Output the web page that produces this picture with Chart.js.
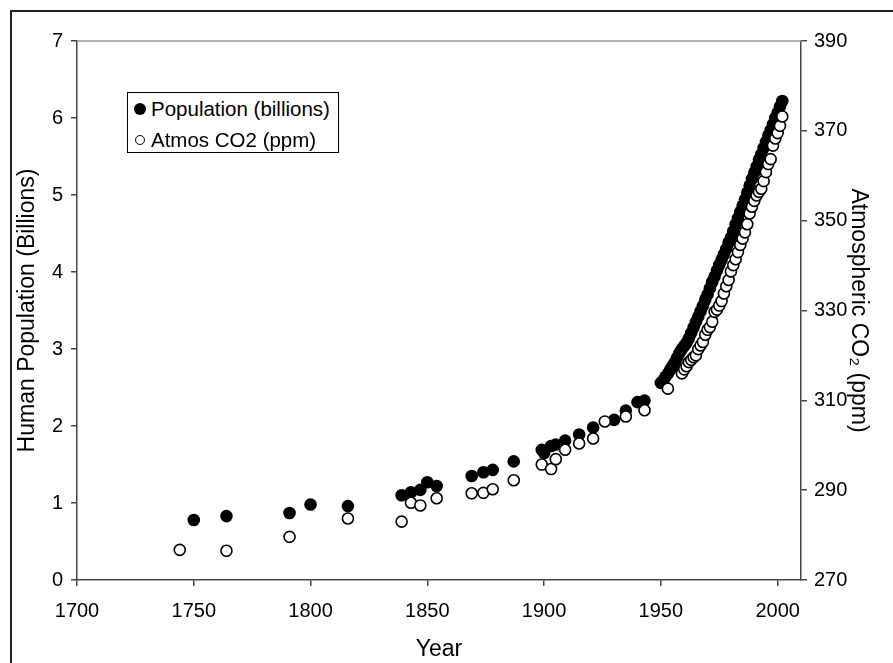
<!DOCTYPE html>
<html>
<head>
<meta charset="utf-8">
<script src="https://cdn.jsdelivr.net/npm/chart.js@4.4.1/dist/chart.umd.min.js"></script>
<style>
    html, body { margin: 0; padding: 0; background: #fff; }
    #wrap { position: relative; width: 893px; height: 663px; overflow: hidden; }
    #frame { position: absolute; left: 10px; top: 10px; width: 920px; height: 700px;
             border-left: 2px solid #222; border-top: 2px solid #222; pointer-events: none; }
    #legend { position: absolute; left: 127px; top: 92px; width: 210px; height: 59px;
              border: 1px solid #000; background: #fff;
              font-family: "Liberation Sans", Arial, sans-serif; font-size: 20.5px; color: #000; }
    .row { position: absolute; left: 0; height: 31px; line-height: 31px; width: 100%; }
    .mark { position: absolute; border-radius: 50%; box-sizing: border-box; }
    .txt { position: absolute; left: 23px; top: 0; white-space: nowrap; }
</style>
</head>
<body>
<div id="wrap">
    <canvas id="co2-chart" width="893" height="663"></canvas>
    <div id="frame"></div>
    <div id="legend"></div>
</div>
<script>
// Populacja swiata (mld) - lata i wartosci
const popYears = [1750, 1764, 1791, 1800, 1816, 1839, 1843, 1847, 1850, 1854,
    1869, 1874, 1878, 1887, 1899, 1900, 1903, 1905, 1909, 1915,
    1921, 1930, 1935, 1940, 1943,
    1950, 1951, 1952, 1953, 1954, 1955, 1956, 1957, 1958, 1959,
    1960, 1961, 1962, 1963, 1964, 1965, 1966, 1967, 1968, 1969,
    1970, 1971, 1972, 1973, 1974, 1975, 1976, 1977, 1978, 1979,
    1980, 1981, 1982, 1983, 1984, 1985, 1986, 1987, 1988, 1989,
    1990, 1991, 1992, 1993, 1994, 1995, 1996, 1997, 1998, 1999,
    2000, 2001, 2002];
const popValues = [0.78, 0.83, 0.87, 0.98, 0.96, 1.10, 1.14, 1.17, 1.27, 1.22,
    1.35, 1.40, 1.43, 1.54, 1.69, 1.65, 1.74, 1.76, 1.81, 1.89,
    1.98, 2.08, 2.20, 2.31, 2.33,
    2.56, 2.59, 2.64, 2.68, 2.73, 2.78, 2.83, 2.89, 2.95, 3.00,
    3.04, 3.08, 3.14, 3.21, 3.28, 3.35, 3.42, 3.49, 3.56, 3.64,
    3.71, 3.79, 3.87, 3.94, 4.02, 4.09, 4.16, 4.23, 4.30, 4.38,
    4.45, 4.53, 4.62, 4.70, 4.78, 4.86, 4.94, 5.03, 5.12, 5.21,
    5.29, 5.37, 5.46, 5.53, 5.61, 5.69, 5.77, 5.84, 5.92, 6.00,
    6.07, 6.15, 6.22];

// CO2 w atmosferze (ppm)
const co2Years = [1744, 1764, 1791, 1816, 1839, 1843, 1847, 1854, 1869, 1874,
    1878, 1887, 1899, 1903, 1905, 1909, 1915, 1921, 1926, 1935,
    1943, 1953,
    1959, 1960, 1961, 1962, 1963, 1964, 1965, 1966, 1967, 1968,
    1969, 1970, 1971, 1972, 1973, 1974, 1975, 1976, 1977, 1978,
    1979, 1980, 1981, 1982, 1983, 1984, 1985, 1986, 1987, 1988,
    1989, 1990, 1991, 1992, 1993, 1994, 1995, 1996, 1997, 1998,
    1999, 2000, 2001, 2002];
const co2Values = [276.7, 276.5, 279.6, 283.7, 283.0, 287.2, 286.6, 288.2, 289.3, 289.4,
    290.2, 292.2, 295.7, 294.7, 296.9, 299.0, 300.4, 301.5, 305.3, 306.4,
    307.8, 312.6,
    316.0, 316.9, 317.6, 318.5, 319.0, 319.6, 320.0, 321.4, 322.2, 323.0,
    324.6, 325.7, 326.3, 327.5, 329.7, 330.2, 331.1, 332.1, 333.8, 335.4,
    336.8, 338.7, 340.1, 341.4, 343.0, 344.6, 346.0, 347.4, 349.2, 351.6,
    353.1, 354.4, 355.6, 356.4, 357.1, 358.8, 360.8, 362.6, 363.7, 366.7,
    368.3, 369.5, 371.1, 373.2];

// Osie
const yearTicks = { min: 1700, max: 2010, step: 50 };
const popTicks = { min: 0, max: 7, step: 1 };
const co2Ticks = { min: 270, max: 390, step: 20 };

const fontFamily = '"Liberation Sans", Arial, sans-serif';
Chart.defaults.font.family = fontFamily;
Chart.defaults.color = '#000';

const popPoints = popYears.map((x, i) => ({ x, y: popValues[i] }));
const co2Points = co2Years.map((x, i) => ({ x, y: co2Values[i] }));

// Szara linia na gorze obszaru wykresu
const topLine = {
    id: 'topLine',
    beforeDatasetsDraw(chart) {
        const { ctx, chartArea: a } = chart;
        ctx.save();
        ctx.strokeStyle = '#999';
        ctx.lineWidth = 1.5;
        ctx.beginPath();
        ctx.moveTo(a.left, a.top);
        ctx.lineTo(a.right, a.top);
        ctx.stroke();
        ctx.restore();
    }
};

const axisGrid = { drawOnChartArea: false, drawTicks: true, tickLength: 6, color: '#444', lineWidth: 1.5 };
const axisBorder = { color: '#444', width: 1.5 };

const chart = new Chart(document.getElementById('co2-chart').getContext('2d'), {
    type: 'scatter',
    data: {
        datasets: [{
            label: 'Population (billions)',
            data: popPoints,
            yAxisID: 'y',
            backgroundColor: '#000',
            borderColor: '#000',
            pointRadius: 6.3,
            pointBorderWidth: 0,
            order: 2
        }, {
            label: 'Atmos CO2 (ppm)',
            data: co2Points,
            yAxisID: 'y2',
            backgroundColor: '#fff',
            borderColor: '#000',
            pointRadius: 5.5,
            pointBorderWidth: 1.6,
            order: 1
        }]
    },
    options: {
        responsive: false,
        animation: false,
        layout: { padding: { left: 0, right: 7, top: 41, bottom: 0 } },
        plugins: {
            legend: { display: false },
            tooltip: { enabled: false }
        },
        scales: {
            x: {
                type: 'linear',
                position: 'bottom',
                min: yearTicks.min,
                max: yearTicks.max,
                ticks: {
                    stepSize: yearTicks.step,
                    includeBounds: false,
                    padding: 13,
                    font: { size: 20 },
                    callback: v => String(v)
                },
                grid: axisGrid,
                border: axisBorder,
                title: { display: true, text: 'Year', font: { size: 23 }, padding: 0 },
                afterFit: s => { s.height = 83; }
            },
            y: {
                position: 'left',
                min: popTicks.min,
                max: popTicks.max,
                ticks: { stepSize: popTicks.step, padding: 8, font: { size: 20 } },
                grid: axisGrid,
                border: axisBorder,
                title: { display: true, text: 'Human Population (Billions)', font: { size: 23 }, padding: 14 },
                afterFit: s => { s.width = 77; }
            },
            y2: {
                position: 'right',
                min: co2Ticks.min,
                max: co2Ticks.max,
                ticks: { stepSize: co2Ticks.step, padding: 7, font: { size: 20 } },
                grid: axisGrid,
                border: axisBorder,
                title: { display: true, text: 'Atmospheric CO\u2082 (ppm)', font: { size: 23 }, padding: 14 },
                afterFit: s => { s.width = 85; }
            }
        }
    },
    plugins: [topLine]
});

// Legenda w ramce
const legend = document.getElementById('legend');
chart.data.datasets.forEach((ds, i) => {
    const row = document.createElement('div');
    row.className = 'row';
    row.style.top = (i * 31) + 'px';
    const mark = document.createElement('span');
    mark.className = 'mark';
    const size = i === 0 ? 12 : 10;
    mark.style.width = size + 'px';
    mark.style.height = size + 'px';
    mark.style.left = (12 - size / 2) + 'px';
    mark.style.top = (15.5 - size / 2) + 'px';
    mark.style.background = ds.backgroundColor;
    if (i > 0) mark.style.border = '1.5px solid ' + ds.borderColor;
    const txt = document.createElement('span');
    txt.className = 'txt';
    txt.textContent = ds.label;
    row.appendChild(mark);
    row.appendChild(txt);
    legend.appendChild(row);
});
</script>
</body>
</html>
